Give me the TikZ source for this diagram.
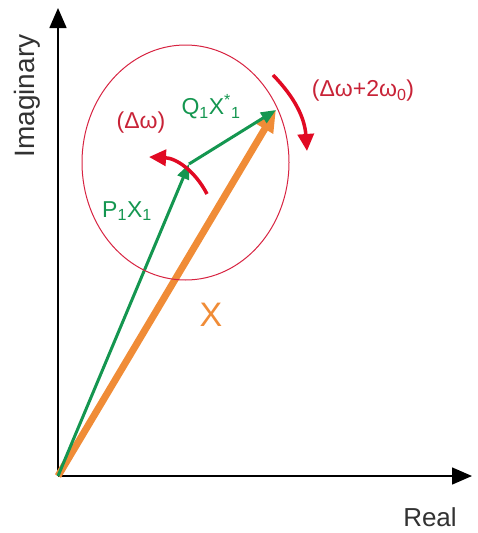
\documentclass[tikz,border=0pt]{standalone}
\usepackage{fontspec}
\setmainfont{Liberation Sans}
\usetikzlibrary{arrows.meta}
\definecolor{vgreen}{RGB}{20,150,80}
\definecolor{vorange}{RGB}{240,140,55}
\definecolor{vred}{RGB}{225,10,35}
\definecolor{ringred}{RGB}{215,35,65}
\definecolor{labred}{RGB}{200,35,55}
\definecolor{axgray}{RGB}{50,50,50}

\begin{document}
\begin{tikzpicture}[x=1pt, y=-1pt, axis/.style={-{Triangle[length=20pt,width=17pt]}, line width=1.5pt}, phasor/.style={-{Triangle[length=15pt,width=12pt]}, line width=3pt, vgreen}, total/.style={-{Triangle[length=22pt,width=18pt]}, line width=7pt, vorange}, spin/.style={-{Triangle[length=17pt,width=16pt]}, line width=3.5pt, vred}, ring/.style={draw=ringred, line width=1pt}, lbl/.style={font=\fontsize{23}{27}\selectfont, inner sep=0pt}, axlbl/.style={font=\fontsize{26}{30}\selectfont, axgray, inner sep=0pt}]
\useasboundingbox (0,0) rectangle (478,533);
\coordinate (O) at (58,476); \coordinate (N) at (58,8); \coordinate (E) at (472,476);
\coordinate (J) at (189,164); \coordinate (T) at (276,110); \coordinate (C) at (185.5,162.5);
\draw[axis] (O)--(N); \draw[axis] (O)--(E);
\draw[total] (O)--(T);
\draw[phasor] (O)--(J); \draw[phasor] (J)--(T);
\draw[ring] (C) ellipse [x radius=103.5, y radius=117.5];
\coordinate (a1) at (207,194); \coordinate (b1) at (149,157);
\coordinate (a2) at (273,75); \coordinate (b2) at (307,151);
\draw[spin] (a1) to[bend right=30] (b1);
\draw[spin] (a2) to[bend left=20] (b2);
\node[lbl, vgreen] (q) at (211,107) {Q\textsubscript{1}X\textsuperscript{*}\textsubscript{1}};
\node[lbl, vgreen] (p) at (127,211) {P\textsubscript{1}X\textsubscript{1}};
\node[lbl, labred] (dw) at (141,123) {(Δω)};
\node[lbl, labred] (dws) at (363,91) {(Δω+2ω\textsubscript{0})};
\node[font=\fontsize{34}{40}\selectfont, vorange, inner sep=0pt] (x) at (211,315) {X};
\node[axlbl, rotate=90, font=\fontsize{28}{32}\selectfont] (im) at (27,96) {Imaginary};
\node[axlbl] (re) at (430,517) {Real};
\end{tikzpicture}
\end{document}
